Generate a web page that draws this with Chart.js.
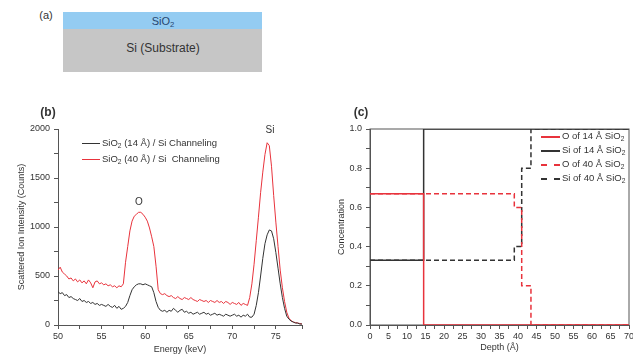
<!DOCTYPE html>
<html>
<head>
<meta charset="utf-8">
<script src="https://cdn.jsdelivr.net/npm/chart.js@4"></script>
<style>
  html, body { margin: 0; padding: 0; width: 633px; height: 357px; overflow: hidden; background: #fff;
    font-family: "Liberation Sans", Arial, sans-serif; }
  .abs { position: absolute; white-space: nowrap; }
  .c { transform: translate(-50%, -50%); }
  .lg { position: absolute; height: 0; }
  #chartB { position: absolute; left: 0; top: 100px; }
  #chartC { position: absolute; left: 320px; top: 100px; }
  sub { font-size: 70%; vertical-align: -2px; line-height: 0; }
</style>
</head>
<body>
<!-- (a) layer sketch -->
<div class="abs c" style="left:46px;top:15px;font-size:11px;color:#333">(a)</div>
<div class="abs" style="left:63px;top:12px;width:199px;height:17px;background:#94ccf2"></div>
<div class="abs" style="left:63px;top:29px;width:199px;height:43px;background:#c6c6c6"></div>
<div class="abs c" style="left:163px;top:21px;font-size:11px;color:#27476f">SiO<sub>2</sub></div>
<div class="abs c" style="left:163px;top:48px;font-size:12px;color:#333">Si (Substrate)</div>

<canvas id="chartB" width="320" height="257"></canvas>
<canvas id="chartC" width="330" height="257"></canvas>

<!-- (b) labels and legend -->
<div class="abs c" style="left:48px;top:112px;font-size:12px;font-weight:bold;color:#333">(b)</div>
<div class="abs c" style="left:139px;top:201px;font-size:10px;color:#333">O</div>
<div class="abs c" style="left:270px;top:129px;font-size:10px;color:#333">Si</div>
<div class="lg" style="left:82px;top:143px;width:18px;border-top:1px solid #333"></div>
<div class="abs" style="left:102px;top:137px;font-size:9.5px;color:#333">SiO<sub>2</sub> (14 Å) / Si Channeling</div>
<div class="lg" style="left:82px;top:159px;width:18px;border-top:1px solid #e8333c"></div>
<div class="abs" style="left:102px;top:153px;font-size:9.5px;color:#333">SiO<sub>2</sub> (40 Å) / Si&nbsp; Channeling</div>

<!-- (c) labels and legend -->
<div class="abs c" style="left:361px;top:112px;font-size:12px;font-weight:bold;color:#333">(c)</div>
<div class="lg" style="left:541px;top:136px;width:19px;border-top:2px solid #e8333c"></div>
<div class="abs" style="left:562px;top:130px;font-size:9.5px;color:#333">O of 14 Å SiO<sub>2</sub></div>
<div class="lg" style="left:541px;top:150px;width:19px;border-top:2px solid #333"></div>
<div class="abs" style="left:562px;top:144px;font-size:9.5px;color:#333">Si of 14 Å SiO<sub>2</sub></div>
<div class="lg" style="left:541px;top:164px;width:19px;border-top:2px dashed #e8333c"></div>
<div class="abs" style="left:562px;top:158px;font-size:9.5px;color:#333">O of 40 Å SiO<sub>2</sub></div>
<div class="lg" style="left:541px;top:178px;width:19px;border-top:2px dashed #333"></div>
<div class="abs" style="left:562px;top:172px;font-size:9.5px;color:#333">Si of 40 Å SiO<sub>2</sub></div>

<script>
// ---- (b) MEIS spectra, energy in keV ----
const energy = [
  50, 50.25, 50.5, 50.75, 51, 51.25, 51.5, 51.75, 52, 52.25, 52.5, 52.75,
  53, 53.25, 53.5, 53.75, 54, 54.25, 54.5, 54.75, 55, 55.25, 55.5, 55.75,
  56, 56.25, 56.5, 56.75, 57, 57.25, 57.5, 57.75, 58, 58.25, 58.5, 58.75,
  59, 59.25, 59.5, 59.75, 60, 60.25, 60.5, 60.75, 61, 61.25, 61.5, 61.75,
  62, 62.25, 62.5, 62.75, 63, 63.25, 63.5, 63.75, 64, 64.25, 64.5, 64.75,
  65, 65.25, 65.5, 65.75, 66, 66.25, 66.5, 66.75, 67, 67.25, 67.5, 67.75,
  68, 68.25, 68.5, 68.75, 69, 69.25, 69.5, 69.75, 70, 70.25, 70.5, 70.75,
  71, 71.25, 71.5, 71.75, 72, 72.25, 72.5, 72.75, 73, 73.25, 73.5, 73.75,
  74, 74.25, 74.5, 74.75, 75, 75.25, 75.5, 75.75, 76, 76.25, 76.5, 76.75,
  77, 77.25, 77.5, 77.75, 78
];
const counts14 = [
  340, 320, 330, 300, 310, 280, 290, 270, 260, 250, 270, 240,
  250, 230, 240, 220, 230, 210, 220, 200, 210, 200, 190, 210,
  190, 180, 200, 170, 190, 160, 170, 190, 230, 300, 360, 390,
  410, 420, 420, 410, 420, 410, 400, 390, 330, 240, 180, 150,
  140, 150, 130, 150, 140, 170, 150, 130, 150, 160, 130, 140,
  120, 130, 110, 120, 130, 110, 120, 130, 110, 120, 100, 110,
  120, 100, 110, 100, 90, 110, 100, 90, 100, 110, 90, 100,
  80, 100, 90, 110, 80, 80, 110, 200, 330, 500, 680, 830,
  920, 970, 960, 880, 740, 580, 420, 280, 170, 90, 60, 40,
  30, 20, 20, 10, 10
];
const counts40 = [
  560, 590, 540, 520, 500, 470, 480, 450, 470, 440, 460, 430,
  450, 420, 460, 430, 380, 440, 450, 420, 430, 410, 420, 400,
  410, 390, 400, 380, 400, 390, 420, 640, 800, 960, 1060, 1110,
  1130, 1150, 1150, 1130, 1100, 1060, 990, 900, 800, 600, 360, 320,
  310, 320, 300, 290, 300, 280, 270, 290, 270, 260, 280, 270,
  260, 280, 260, 250, 240, 260, 250, 240, 250, 230, 250, 240,
  230, 250, 230, 240, 220, 240, 230, 210, 230, 220, 210, 230,
  200, 220, 210, 200, 280, 420, 620, 860, 1100, 1350, 1560, 1740,
  1860, 1830, 1620, 1320, 1050, 800, 560, 380, 240, 130, 70, 45,
  30, 25, 20, 15, 10
];

// ---- (c) depth profiles, depth in Å ----
const o14Depth = [0, 14.5, 14.5, 70];
const o14Conc = [0.67, 0.67, 0, 0];
const si14Depth = [0, 14.5, 14.5, 70];
const si14Conc = [0.33, 0.33, 1, 1];
const o40Depth = [0, 39, 39, 41, 41, 43.5, 43.5, 70];
const o40Conc = [0.67, 0.67, 0.6, 0.6, 0.2, 0.2, 0, 0];
const si40Depth = [0, 39, 39, 41, 41, 43.5, 43.5, 70];
const si40Conc = [0.33, 0.33, 0.4, 0.4, 0.8, 0.8, 1, 1];

const RED = '#e8333c';
const DARK = '#333333';
const AXIS = '#555555';
const tickFont = { family: 'Liberation Sans', size: 9 };
const titleFont = { family: 'Liberation Sans', size: 9 };

const pts = (xs, ys) => xs.map((x, i) => ({ x: x, y: ys[i] }));

function axisOpts(extra) {
  return Object.assign({
    type: 'linear',
    grid: { drawOnChartArea: false, tickLength: 4, color: AXIS },
    border: { color: AXIS, width: 1 },
  }, extra);
}

new Chart(document.getElementById('chartB'), {
  type: 'line',
  data: {
    datasets: [
      { label: 'SiO2 (14 Å) / Si Channeling', data: pts(energy, counts14),
        borderColor: DARK, borderWidth: 1, pointRadius: 0 },
      { label: 'SiO2 (40 Å) / Si  Channeling', data: pts(energy, counts40),
        borderColor: RED, borderWidth: 1, pointRadius: 0 }
    ]
  },
  options: {
    responsive: false,
    animation: false,
    layout: { padding: { left: 0, top: 29, right: 18, bottom: 0 } },
    plugins: { legend: { display: false }, tooltip: { enabled: false } },
    scales: {
      x: axisOpts({
        min: 50, max: 78,
        ticks: { stepSize: 2.5, autoSkip: false, maxRotation: 0, padding: 2, color: DARK, font: tickFont,
          callback: v => (v % 5 === 0 ? v : '') },
        title: { display: true, text: 'Energy (keV)', color: DARK, font: titleFont, padding: { top: 2, bottom: 2 } },
        afterFit: s => { s.height = 32; }
      }),
      y: axisOpts({
        min: 0, max: 2000,
        ticks: { stepSize: 250, autoSkip: false, padding: 4, color: DARK, font: tickFont,
          callback: v => (v % 500 === 0 ? v : '') },
        title: { display: true, text: 'Scattered Ion Intensity (Counts)', color: DARK, font: titleFont, padding: { top: 16, bottom: 0 } },
        afterFit: s => { s.width = 58; }
      })
    }
  }
});

const frame = {
  id: 'frame',
  beforeDatasetsDraw(chart) {
    const { ctx, chartArea: a } = chart;
    ctx.save();
    ctx.strokeStyle = AXIS;
    ctx.lineWidth = 1;
    ctx.strokeRect(a.left, a.top, a.right - a.left, a.bottom - a.top);
    ctx.restore();
  }
};

new Chart(document.getElementById('chartC'), {
  type: 'line',
  data: {
    datasets: [
      { label: 'O of 40 Å SiO2', data: pts(o40Depth, o40Conc), borderColor: RED,
        borderWidth: 1.5, borderDash: [5, 3], pointRadius: 0 },
      { label: 'Si of 40 Å SiO2', data: pts(si40Depth, si40Conc), borderColor: DARK,
        borderWidth: 1.5, borderDash: [5, 3], pointRadius: 0 },
      { label: 'O of 14 Å SiO2', data: pts(o14Depth, o14Conc), borderColor: RED,
        borderWidth: 1.5, pointRadius: 0 },
      { label: 'Si of 14 Å SiO2', data: pts(si14Depth, si14Conc), borderColor: DARK,
        borderWidth: 1.5, pointRadius: 0 }
    ]
  },
  options: {
    responsive: false,
    animation: false,
    layout: { padding: { left: 0, top: 29, right: 21, bottom: 0 } },
    plugins: { legend: { display: false }, tooltip: { enabled: false } },
    scales: {
      x: axisOpts({
        min: 0, max: 70,
        ticks: { stepSize: 2.5, autoSkip: false, maxRotation: 0, padding: 2, color: DARK, font: tickFont,
          callback: v => (v % 5 === 0 ? v : '') },
        title: { display: true, text: 'Depth (Å)', color: DARK, font: titleFont, padding: { top: 0, bottom: 4 } },
        afterFit: s => { s.height = 32; }
      }),
      y: axisOpts({
        min: 0, max: 1,
        ticks: { stepSize: 0.1, autoSkip: false, padding: 4, color: DARK, font: tickFont,
          callback: v => (Math.round(v * 10) % 2 === 0 ? v.toFixed(1) : '') },
        title: { display: true, text: 'Concentration', color: DARK, font: titleFont, padding: { top: 16, bottom: 0 } },
        afterFit: s => { s.width = 50; }
      })
    }
  },
  plugins: [frame]
});
</script>
</body>
</html>
